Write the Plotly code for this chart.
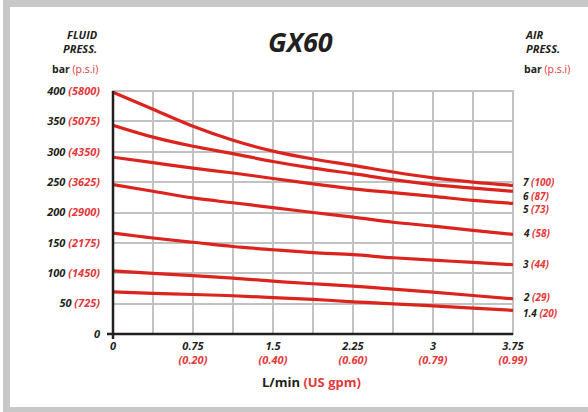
import plotly.graph_objects as go

# ---- data ----
flow_lpm = [0, 0.375, 0.75, 1.125, 1.5, 1.875, 2.25, 2.625, 3.0, 3.375, 3.75]
air_7 = [398, 370, 342, 319, 301, 288, 277.6, 266.6, 257, 250, 244.6]
air_6 = [343.5, 324, 309, 297, 284, 273, 264, 254, 246, 240, 235]
air_5 = [291, 282, 273, 265, 256, 247, 239, 232.6, 226.5, 220, 215]
air_4 = [246, 235, 224, 216, 208, 200, 192.5, 184, 177.6, 170.5, 164]
air_3 = [166, 158, 151, 144, 138.7, 134, 130.5, 125.5, 121.6, 117.8, 114]
air_2 = [104, 99.7, 96, 92, 87, 82.7, 78.8, 73.8, 68.9, 63.4, 58]
air_14 = [69.5, 67, 65, 63, 60, 57, 53, 49.7, 46.4, 42.5, 39]

series = [air_7, air_6, air_5, air_4, air_3, air_2, air_14]
air_bar = ["7", "6", "5", "4", "3", "2", "1.4"]
air_psi = ["100", "87", "73", "58", "44", "29", "20"]

y_bar = [0, 50, 100, 150, 200, 250, 300, 350, 400]
y_psi = [None, "725", "1450", "2175", "2900", "3625", "4350", "5075", "5800"]
x_grid = [0, 0.375, 0.75, 1.125, 1.5, 1.875, 2.25, 2.625, 3.0, 3.375, 3.75]
x_lab = ["0", None, "0.75", None, "1.5", None, "2.25", None, "3", None, "3.75"]
x_gpm = [None, None, "0.20", None, "0.40", None, "0.60", None, "0.79", None, "0.99"]

# label positions (fluid bar) for air pressure labels at right
label_y = [250, 227.5, 205, 167, 115.6, 60.6, 35]

RED = "#dc241f"
TRED = "#e3383b"
DARK = "#231f20"
GRID = "#c2c2c2"
FONT = "Open Sans"

fig = go.Figure()
for s in series:
    fig.add_trace(go.Scatter(x=flow_lpm, y=s, mode="lines",
                             line=dict(color=RED, width=3.2, shape="spline"),
                             showlegend=False, hoverinfo="skip"))

def red(t):
    return f"<span style='color:{TRED}'>{t}</span>"

yt = [f"{b}" if p is None else f"{b} {red('(' + p + ')')}" for b, p in zip(y_bar, y_psi)]
xt = []
for l, g in zip(x_lab, x_gpm):
    if l is None:
        xt.append("")
    elif g is None:
        xt.append(l)
    else:
        xt.append(f"{l}<br>{red('(' + g + ')')}")

W, H = 588, 412
L, R, T, B = 113, 75, 91, 78
pw, ph = W - L - R, H - T - B

def px(x):
    return (x - L) / pw

def py(y):
    return (H - B - y) / ph

fig.update_layout(
    width=W, height=H,
    margin=dict(l=L, r=R, t=T, b=B),
    paper_bgcolor="white", plot_bgcolor="white",
    font=dict(family=FONT, color=DARK),
    xaxis=dict(range=[0, 3.75], tickvals=x_grid, ticktext=xt,
               showgrid=True, gridcolor=GRID, gridwidth=2,
               zeroline=False, showline=False, ticks="",
               tickfont=dict(size=11, color=DARK, weight="bold", style="italic", family=FONT),
               ticklabelstandoff=4, fixedrange=True),
    yaxis=dict(range=[0, 400], tickvals=y_bar, ticktext=yt,
               showgrid=True, gridcolor=GRID, gridwidth=2,
               zeroline=False, showline=False, ticks="",
               tickfont=dict(size=11, color=DARK, weight="bold", style="italic", family=FONT),
               ticklabelstandoff=12, fixedrange=True),
)

shapes = []
# outer frame strips
shapes.append(dict(type="rect", xref="paper", yref="paper", x0=px(3), x1=px(10), y0=py(412), y1=py(0),
                   fillcolor="#c8c8c8", line=dict(width=0), layer="below"))
shapes.append(dict(type="rect", xref="paper", yref="paper", x0=px(3), x1=px(588), y0=py(7), y1=py(0),
                   fillcolor="#c8c8c8", line=dict(width=0), layer="below"))
shapes.append(dict(type="rect", xref="paper", yref="paper", x0=px(3), x1=px(588), y0=py(412), y1=py(407),
                   fillcolor="#c8c8c8", line=dict(width=0), layer="below"))
# plot border gray
shapes.append(dict(type="rect", xref="paper", yref="paper", x0=0, x1=1, y0=0, y1=1,
                   line=dict(color=GRID, width=2), layer="below"))
# black axes
shapes.append(dict(type="line", xref="paper", yref="paper", x0=px(107), x1=1, y0=0, y1=0,
                   line=dict(color=DARK, width=2.5), layer="above"))
shapes.append(dict(type="line", xref="paper", yref="paper", x0=0, x1=0, y0=py(339), y1=1,
                   line=dict(color=DARK, width=2.5), layer="above"))
fig.update_layout(shapes=shapes)

ann = []
ann.append(dict(text="<b><i>GX60</i></b>", x=px(300), y=py(42), xref="paper", yref="paper",
                showarrow=False, xanchor="center", yanchor="middle",
                font=dict(size=27, color=DARK, family=FONT)))
ann.append(dict(text="<b><i>FLUID<br>PRESS.</i></b>", x=px(100), y=py(41), xref="paper", yref="paper",
                showarrow=False, xanchor="right", yanchor="middle", align="right",
                font=dict(size=11, color=DARK, family=FONT)))
ann.append(dict(text="<b>bar</b> " + red("(p.s.i)"), x=px(100), y=py(69), xref="paper", yref="paper",
                showarrow=False, xanchor="right", yanchor="middle", align="right",
                font=dict(size=10.5, color=DARK, family=FONT)))
ann.append(dict(text="<b><i>AIR<br>PRESS.</i></b>", x=px(523), y=py(41), xref="paper", yref="paper",
                showarrow=False, xanchor="left", yanchor="middle", align="left",
                font=dict(size=11, color=DARK, family=FONT)))
ann.append(dict(text="<b>bar</b> " + red("(p.s.i)"), x=px(522), y=py(69), xref="paper", yref="paper",
                showarrow=False, xanchor="left", yanchor="middle", align="left",
                font=dict(size=10.5, color=DARK, family=FONT)))
ann.append(dict(text="<b>L/min</b> " + red("<b>(US gpm)</b>"), x=px(311), y=py(382), xref="paper", yref="paper",
                showarrow=False, xanchor="center", yanchor="middle",
                font=dict(size=13, color=DARK, family=FONT)))
for b, p, ly in zip(air_bar, air_psi, label_y):
    ann.append(dict(text=f"<b><i>{b} {red('(' + p + ')')}</i></b>", x=px(522), y=ly,
                    xref="paper", yref="y", showarrow=False, xanchor="left", yanchor="middle",
                    borderpad=0, font=dict(size=10, color=DARK, family=FONT)))
fig.update_layout(annotations=ann)

fig.write_html("out.html", config={"displayModeBar": False},
               post_script="document.body.style.margin='0';document.body.style.padding='0';")
